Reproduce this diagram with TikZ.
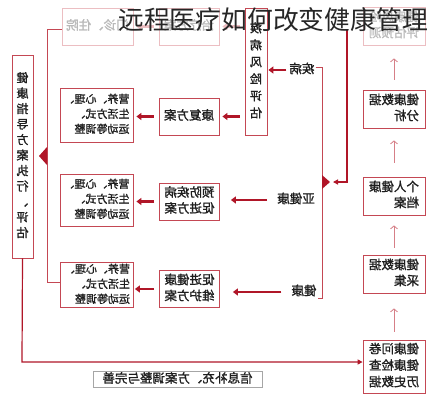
\documentclass[tikz,border=0pt]{standalone}
\usepackage{graphicx}
\usepackage{fontspec}
\setmainfont{Noto Sans CJK SC}
\newfontfamily\boxfont{Noto Sans CJK SC}[FakeBold=1.2]
\usetikzlibrary{positioning,arrows.meta,calc}

\definecolor{boxred}{RGB}{196,72,84}
\definecolor{arrred}{RGB}{176,22,40}
\definecolor{fadered}{RGB}{236,190,194}
\definecolor{txt}{RGB}{30,30,30}

% the whole chart is printed mirrored, so every box text is flipped
\newcommand{\flip}[1]{\reflectbox{\begin{tabular}{@{}l@{}}#1\end{tabular}}}
\newcommand{\flipcol}[1]{\reflectbox{\begin{tabular}{@{}c@{}}#1\end{tabular}}}

\begin{document}
\begin{tikzpicture}[x=1pt, y=-1pt,
    every node/.style={font=\boxfont\fontsize{12.5}{16}\selectfont, text=txt},
    box/.style={draw=boxred, line width=0.8pt, fill=white, inner sep=0pt},
    adjbox/.style={box, minimum width=73pt, font=\boxfont\fontsize{11}{15}\selectfont},
    planbox/.style={box, minimum width=60pt, minimum height=37pt},
    colbox/.style={box, minimum width=62pt, minimum height=38pt},
    notebox/.style={draw=gray!70, line width=0.7pt, inner sep=0pt,
                    minimum width=169pt, minimum height=15pt},
    tag/.style={inner sep=1pt},
    flow/.style={draw=arrred, line width=2.2pt, -{Triangle[length=5pt,width=7pt]}},
    fflow/.style={flow, draw=fadered},
    brace/.style={draw=boxred, line width=1pt},
    feed/.style={draw=arrred, line width=1.2pt, -{Triangle[length=5pt,width=5pt]}},
    up/.style={draw=boxred!70, line width=0.8pt, -{Straight Barb[length=3pt,width=7pt]}}
]
  \fill[white] (0,0) rectangle (428,400);
  \useasboundingbox (0,0) rectangle (428,400);

  % right column: data side
  \node[colbox, draw=fadered, text=gray!55] (predict) at (394,26) {\flip{健康风险\\评估预测}};
  \node[colbox] (analysis) at (394,109) {\flip{健康数据\\分析}};
  \node[colbox] (archive) at (394,196) {\flip{个人健康\\档案}};
  \node[colbox] (collect) at (394,274) {\flip{健康数据\\采集}};
  \node[colbox, minimum height=53pt, font=\boxfont\fontsize{12.5}{16.5}\selectfont] (source) at (394,366.5)
    {\flip{健康问卷\\健康检查\\历史数据}};

  \draw[up, shorten <=8pt, shorten >=15pt] (source) -- (collect);
  \draw[up, shorten <=7pt, shorten >=10pt] (collect) -- (archive);
  \draw[up, shorten <=14pt, shorten >=12pt] (archive) -- (analysis);
  \draw[up, shorten <=10pt, shorten >=13pt] (analysis) -- (predict);

  % risk groups
  \node[tag] (ill) at (302,70) {\flip{疾病}};
  \node[tag] (sub) at (296,200) {\flip{亚健康}};
  \node[tag] (ok) at (304,292) {\flip{健康}};

  \coordinate (bk1) at (322,67);
  \coordinate (bk2) at (322,298);
  \coordinate (bkmid) at (322,182);
  \coordinate (fdtop) at (347,30);
  \draw[brace] (ill.east |- bk1) -- (bk1) -- (bk2) -- (ok.east |- bk2);
  \fill[arrred] ($(bkmid)+(0,-7)$) -- ($(bkmid)+(8,0)$) -- ($(bkmid)+(0,7)$) -- cycle;
  \draw[feed] (fdtop) |- ($(bkmid)+(11,0)$);

  % plans
  \node[box, minimum width=22pt, minimum height=127pt, font=\boxfont\fontsize{12}{17}\selectfont] (riskv) at (256,71.5)
    {\flipcol{疾\\病\\风\\险\\评\\估}};
  \node[planbox, draw=fadered, text=gray!55] (treat) at (189,26.5) {\flip{治疗方案}};
  \node[box, draw=fadered, text=gray!55, minimum width=71pt, minimum height=37pt] (clinic) at (97.5,26.5)
    {\flip{门诊、住院}};
  \node[planbox] (rehab) at (189,116.5) {\flip{康复方案}};
  \node[adjbox, minimum height=54pt] (adj1) at (96.5,115) {\flip{营养、心理、\\生活方式、\\运动等调整}};
  \node[planbox] (prevent) at (189.5,201.5) {\flip{预防疾病\\促进方案}};
  \node[adjbox, minimum height=52pt] (adj2) at (96.5,200) {\flip{营养、心理、\\生活方式、\\运动等调整}};
  \node[planbox] (keep) at (189.5,289) {\flip{促进健康\\维护方案}};
  \node[adjbox, minimum height=44pt] (adj3) at (97,285) {\flip{营养、心理、\\生活方式、\\运动等调整}};

  \draw[fflow, shorten <=5pt, shorten >=3pt] (riskv.west |- treat.east) -- (treat.east);
  \draw[fflow, shorten <=5pt, shorten >=3pt] (treat.west) -- (clinic.east |- treat.west);
  \draw[flow, shorten <=2pt, shorten >=1pt] (ill.west) -- (riskv.east |- ill.west);
  \draw[flow, shorten <=5pt, shorten >=3pt] (riskv.west |- rehab.east) -- (rehab.east);
  \draw[flow, shorten <=5pt, shorten >=3pt] (rehab.west) -- (adj1.east |- rehab.west);
  \draw[flow, shorten <=9pt, shorten >=11pt] (sub.west) -- (prevent.east |- sub.west);
  \draw[flow, shorten <=5pt, shorten >=3pt] (prevent.west) -- (adj2.east |- prevent.west);
  \draw[flow, shorten <=9pt, shorten >=13pt] (ok.west) -- (keep.east |- ok.west);
  \draw[flow, shorten <=5pt, shorten >=1pt] (keep.west) -- (adj3.east |- keep.west);

  % guidance side
  \node[box, minimum width=21pt, minimum height=203pt, font=\boxfont\fontsize{12}{15.5}\selectfont] (guide) at (22.5,156.5)
    {\flipcol{健\\康\\指\\导\\方\\案\\执\\行\\、\\评\\估}};
  \coordinate (lb1) at (47,29);
  \coordinate (lb2) at (47,282);
  \coordinate (bt) at (22,362);
  \draw[brace] (clinic.west |- lb1) -- (lb1) -- (lb2) -- (adj3.west |- lb2);
  \fill[arrred] (47,147) -- (39,156) -- (47,165) -- cycle;
  \draw[feed] (guide.south) -- (bt) -- (source.west |- bt);
  \node[notebox] (note) at (177.5,379.5) {\flip{信息补充、方案调整与完善}};

  % title laid over the chart
  \node[text=black!85, font=\rmfamily\fontsize{25.8}{26}\selectfont, inner sep=0pt] (title) at (273,20)
    {远程医疗如何改变健康管理};
\end{tikzpicture}
\end{document}
